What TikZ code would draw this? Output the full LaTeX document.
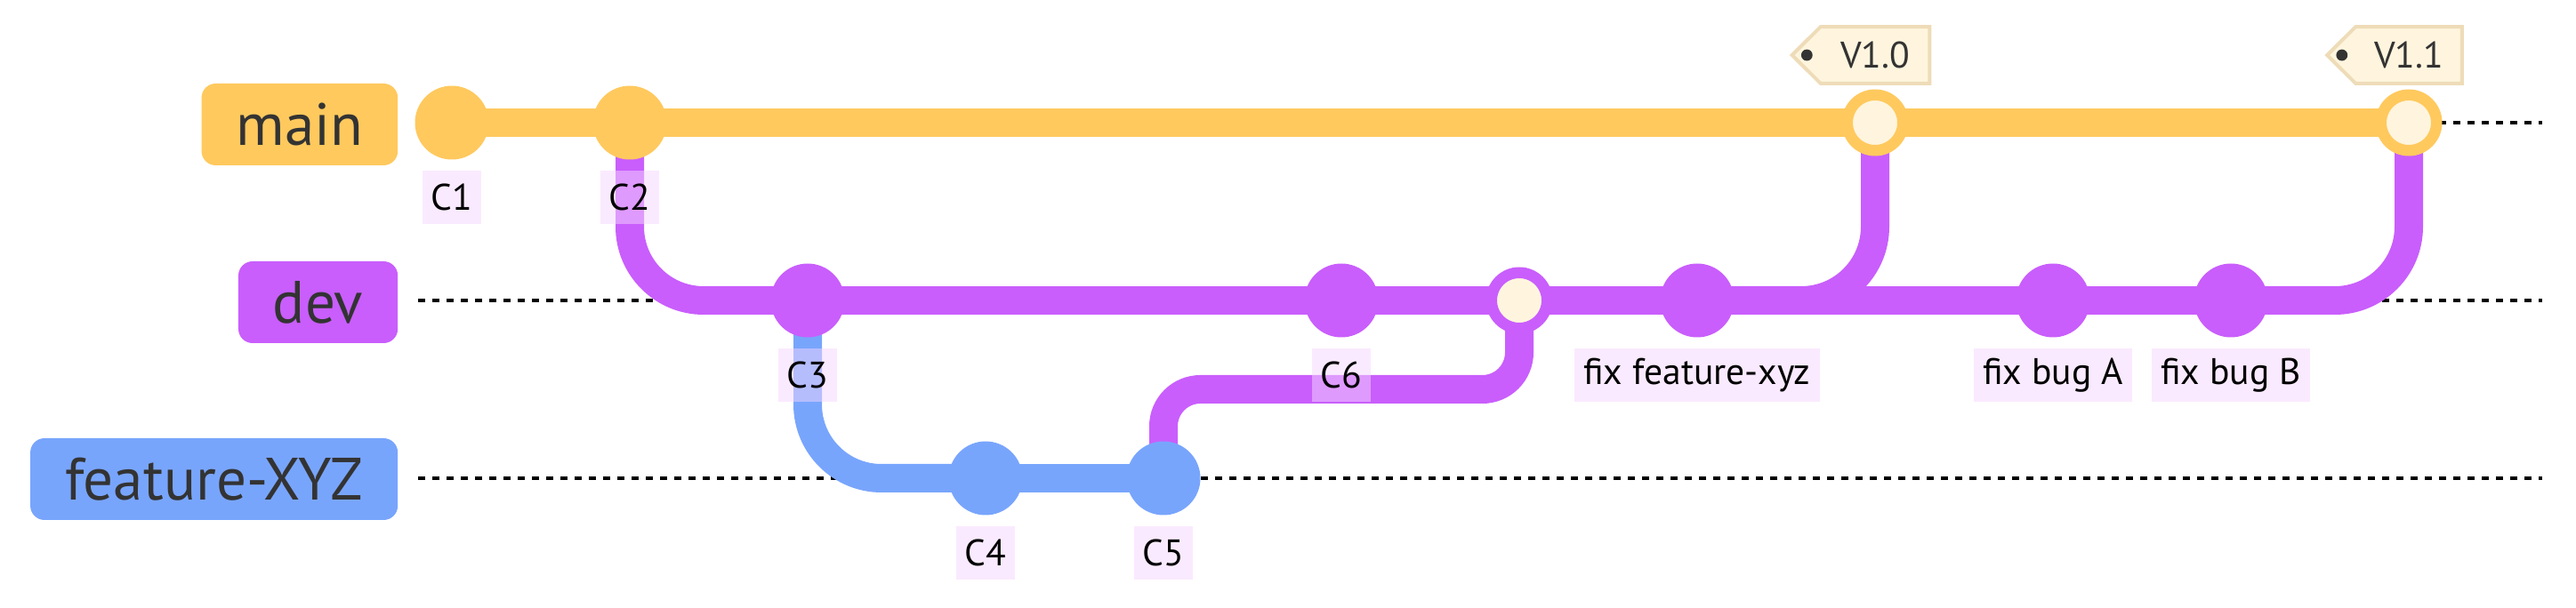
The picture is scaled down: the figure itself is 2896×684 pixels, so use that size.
\documentclass[tikz,border=0pt]{standalone}
\usepackage{fontspec}
\setmainfont{PT Sans}
\usetikzlibrary{backgrounds,positioning}

\definecolor{gitmain}{HTML}{FFC95E}
\definecolor{gitdev}{HTML}{C95EFC}
\definecolor{gitfeat}{HTML}{78A5FC}
\definecolor{lblfill}{RGB}{245,214,255}
\definecolor{tagfill}{HTML}{FFF5DE}
\definecolor{tagline}{HTML}{EEDCB8}
\definecolor{labeltext}{HTML}{333333}

\tikzset{
  branchline/.style={line width=8pt},
  lane/.style={black, line width=0.9pt, dash pattern=on 2pt off 2pt},
  commit/.style={circle, inner sep=0pt, minimum size=20.75pt, fill=#1},
  mergecommit/.style={circle, inner sep=0pt, minimum size=15.625pt, fill=tagfill, draw=#1, line width=3.125pt},
  branchlabel/.style={anchor=east, fill=#1, rounded corners=4pt, minimum height=23pt, inner xsep=9.75pt, inner ysep=0pt, text=labeltext, font=\fontsize{16.8}{20}\selectfont},
  commitlabel/.style={fill=lblfill, fill opacity=0.5, text opacity=1, minimum height=15pt, inner xsep=2.5pt, inner ysep=0pt, text=black, font=\fontsize{10.4}{12}\selectfont},
  tagtext/.style={minimum height=15.5pt, inner sep=0pt, text=labeltext, font=\fontsize{10.4}{12}\selectfont},
  tagbox/.style={fill=tagfill, draw=tagline, line width=1pt},
}

\begin{document}
\begin{tikzpicture}[x=0.25pt, y=-0.25pt]
    \useasboundingbox (0,0) rectangle (2896,684);

    % Etiquetas de rama
        \node[branchlabel=gitmain] (bmain) at (448,140) {main};
        \node[branchlabel=gitdev] (bdev) at (448,340) {dev};
        \node[branchlabel=gitfeat] (bfeat) at (448,539) {feature-XYZ};

    % Commits
        \node[commit=gitmain] (c1) at (508,138) {};
        \node[commit=gitmain] (c2) at (708,138) {};
        \node[commit=gitdev] (c3) at (908,338) {};
        \node[commit=gitfeat] (c4) at (1108,538) {};
        \node[commit=gitfeat] (c5) at (1308,538) {};
        \node[commit=gitdev] (c6) at (1508,338) {};
        \node[mergecommit=gitdev] (m1) at (1708,338) {};
        \node[commit=gitdev] (fx) at (1908,338) {};
        \node[mergecommit=gitmain] (v10) at (2108,138) {};
        \node[commit=gitdev] (fa) at (2308,338) {};
        \node[commit=gitdev] (fb) at (2508,338) {};
        \node[mergecommit=gitmain] (v11) at (2708,138) {};

    % Nombres de commit
        \path (c1) ++(0,84) node[commitlabel] (lc1) {C1};
        \path (c2) ++(0,84) node[commitlabel] (lc2) {C2};
        \path (c3) ++(0,84) node[commitlabel] (lc3) {C3};
        \path (c4) ++(0,84) node[commitlabel] (lc4) {C4};
        \path (c5) ++(0,84) node[commitlabel] (lc5) {C5};
        \path (c6) ++(0,84) node[commitlabel] (lc6) {C6};
        \path (fx) ++(0,84) node[commitlabel] (lfx) {fix feature-xyz};
        \path (fa) ++(0,84) node[commitlabel] (lfa) {fix bug A};
        \path (fb) ++(0,84) node[commitlabel] (lfb) {fix bug B};

    % Tags
        \node[tagtext, minimum width=30.25pt] (tv10) at (2108,62) {V1.0};
        \node[tagtext, minimum width=29.5pt] (tv11) at (2708,62) {V1.1};

    \begin{pgfonlayer}{background}
        % Carriles
            \draw[lane] (470,138) -- (2858,138);
            \draw[lane] (470,338) -- (2858,338);
            \draw[lane] (470,538) -- (2858,538);

        % Lineas de rama
            \draw[branchline, gitmain] (c1.center) -- (c2.center) -- (v10.center) -- (v11.center);
            \draw[branchline, gitdev, rounded corners=20.75pt] (c2.center) |- (c3.center);
            \draw[branchline, gitdev] (c3.center) -- (c6.center) -- (m1.center) -- (fx.center) -- (fa.center) -- (fb.center);
            \draw[branchline, gitfeat, rounded corners=20.75pt] (c3.center) |- (c4.center);
            \draw[branchline, gitfeat] (c4.center) -- (c5.center);

        % Merges
            \draw[branchline, gitdev, rounded corners=10.375pt] (c5.center) -- ++(0,-100) -| (m1.center);
            \draw[branchline, gitdev, rounded corners=20.75pt] (fx.center) -| (v10.center);
            \draw[branchline, gitdev, rounded corners=20.75pt] (fb.center) -| (v11.center);

        % Forma de tag
            \draw[tagbox] (tv10.north west) -- (tv10.north east) -- (tv10.south east) -- (tv10.south west) -- ([xshift=-8pt]tv10.west) -- cycle;
            \fill[labeltext] ([xshift=-3.85pt]tv10.west) circle[radius=1.6pt];
            \draw[tagbox] (tv11.north west) -- (tv11.north east) -- (tv11.south east) -- (tv11.south west) -- ([xshift=-8pt]tv11.west) -- cycle;
            \fill[labeltext] ([xshift=-3.85pt]tv11.west) circle[radius=1.6pt];
    \end{pgfonlayer}
\end{tikzpicture}
\end{document}
